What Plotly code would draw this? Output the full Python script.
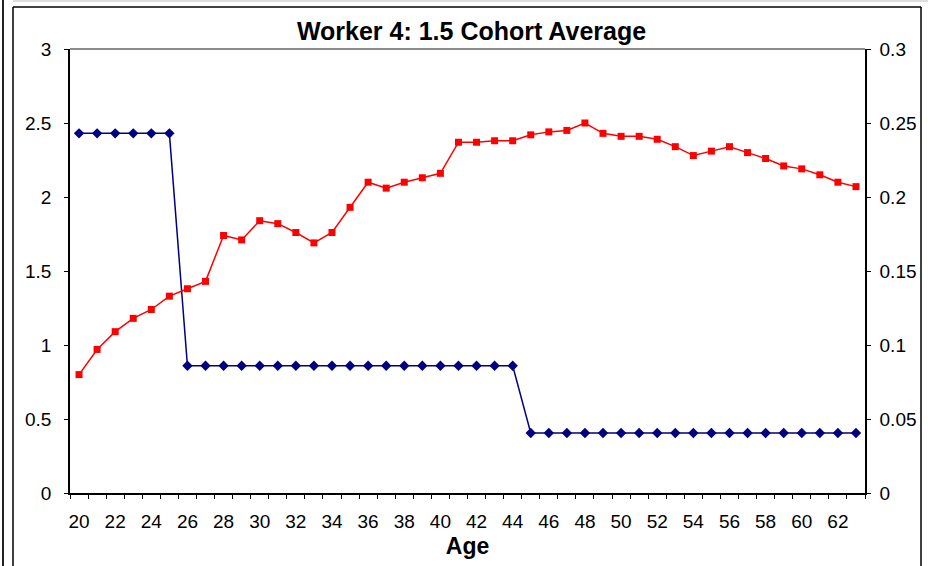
import plotly.graph_objects as go

ages = list(range(20, 64))
blue_vals = [2.43]*6 + [0.86]*19 + [0.405]*19
red_vals = [0.080, 0.097, 0.109, 0.118, 0.124, 0.133, 0.138, 0.143, 0.174, 0.171,
            0.184, 0.182, 0.176, 0.169, 0.176, 0.193, 0.210, 0.206, 0.210, 0.213,
            0.216, 0.237, 0.237, 0.238, 0.238, 0.242, 0.244, 0.245, 0.250, 0.243,
            0.241, 0.241, 0.239, 0.234, 0.228, 0.231, 0.234, 0.230, 0.226, 0.221,
            0.219, 0.215, 0.210, 0.207]
x_labels = [str(a) for a in range(20, 64, 2)]
left_ticks = [0, 0.5, 1, 1.5, 2, 2.5, 3]
right_ticks = [0, 0.05, 0.1, 0.15, 0.2, 0.25, 0.3]

W, H = 928, 566
L, R, T, B = 70, 865, 49, 493
FONT = "Liberation Sans, Arial, sans-serif"

half_ticks = [a - 0.5 for a in ages] + [ages[-1] + 0.5]

fig = go.Figure()
fig.add_trace(go.Scatter(x=ages, y=blue_vals, mode="lines+markers",
                         line=dict(color="#000080", width=1.5),
                         marker=dict(symbol="diamond", size=8, color="#000080"),
                         xaxis="x", yaxis="y", showlegend=False))
fig.add_trace(go.Scatter(x=ages, y=red_vals, mode="lines+markers",
                         line=dict(color="#FF0000", width=1.5),
                         marker=dict(symbol="square", size=7, color="#FF0000"),
                         xaxis="x", yaxis="y2", showlegend=False))

xr = [ages[0] - 0.5, ages[-1] + 0.5]
tickfont = dict(family=FONT, size=19, color="black")

fig.update_layout(
    width=W, height=H,
    margin=dict(l=L, r=W - R, t=T, b=H - B, autoexpand=False),
    paper_bgcolor="white", plot_bgcolor="white",
    title=dict(text="<b>Worker 4: 1.5 Cohort Average</b>", x=(296 + 647) / 2 / W, xanchor="center",
               y=1 - 31 / H, yanchor="middle", font=dict(family=FONT, size=25, color="black")),
    xaxis=dict(range=xr, tickmode="array", tickvals=list(range(20, 64, 2)), ticktext=x_labels,
               ticks="", showline=True, linecolor="black", linewidth=1.5, showgrid=False,
               zeroline=False, tickfont=tickfont, ticklabelstandoff=10,
               minor=dict(tickmode="array", tickvals=half_ticks, ticks="outside", ticklen=4,
                          tickwidth=1, tickcolor="black", showgrid=False),
               title=dict(text="<b>Age</b>", font=dict(family=FONT, size=23, color="black"), standoff=7)),
    xaxis2=dict(range=xr, overlaying="x", anchor="y", side="bottom", tickmode="array",
                tickvals=half_ticks, ticks="inside", ticklen=4, tickwidth=1, tickcolor="black",
                showticklabels=False, showline=False, showgrid=False, zeroline=False),
    yaxis=dict(range=[0, 3], tickmode="array", tickvals=left_ticks, ticks="outside", ticklen=4,
               tickwidth=1, tickcolor="black", showline=True, linecolor="black", linewidth=1.5,
               showgrid=False, zeroline=False, tickfont=tickfont, ticklabelstandoff=9),
    yaxis2=dict(range=[0, 0.3], overlaying="y", side="right", anchor="x", tickmode="array",
                tickvals=right_ticks, ticks="outside", ticklen=4, tickwidth=1, tickcolor="black",
                showline=True, linecolor="black", linewidth=1.5, showgrid=False, zeroline=False,
                tickfont=tickfont, ticklabelstandoff=5),
    yaxis3=dict(range=[0, 3], overlaying="y", side="left", anchor="x", tickmode="array",
                tickvals=left_ticks, ticks="inside", ticklen=4, tickwidth=1, tickcolor="black",
                showticklabels=False, showline=False, showgrid=False, zeroline=False),
    yaxis4=dict(range=[0, 0.3], overlaying="y", side="right", anchor="x", tickmode="array",
                tickvals=right_ticks, ticks="inside", ticklen=4, tickwidth=1, tickcolor="black",
                showticklabels=False, showline=False, showgrid=False, zeroline=False),
)

def px_x(p):
    return (p - L) / (R - L)

def px_y(p):
    return (B - p) / (B - T)

shapes = [
    # plot-area top border
    dict(type="line", xref="paper", yref="paper", x0=0, x1=1, y0=1, y1=1,
         line=dict(color="#666666", width=1.5), layer="below"),
    # outer chart frame
    dict(type="line", xref="paper", yref="paper", x0=px_x(13), x1=px_x(921), y0=px_y(7), y1=px_y(7),
         line=dict(color="black", width=1.5)),
    dict(type="line", xref="paper", yref="paper", x0=px_x(13), x1=px_x(13), y0=px_y(7), y1=px_y(570),
         line=dict(color="black", width=1.5)),
    dict(type="line", xref="paper", yref="paper", x0=px_x(921), x1=px_x(921), y0=px_y(7), y1=px_y(570),
         line=dict(color="black", width=1.5)),
    dict(type="line", xref="paper", yref="paper", x0=px_x(3), x1=px_x(3), y0=px_y(0), y1=px_y(570),
         line=dict(color="#222222", width=2)),
    dict(type="line", xref="paper", yref="paper", x0=px_x(13), x1=px_x(928), y0=px_y(1), y1=px_y(1),
         line=dict(color="#dddddd", width=2)),
]
fig.update_layout(shapes=shapes)

fig.write_html("out.html", config={"displayModeBar": False},
               post_script="document.body.style.margin='0px';")
